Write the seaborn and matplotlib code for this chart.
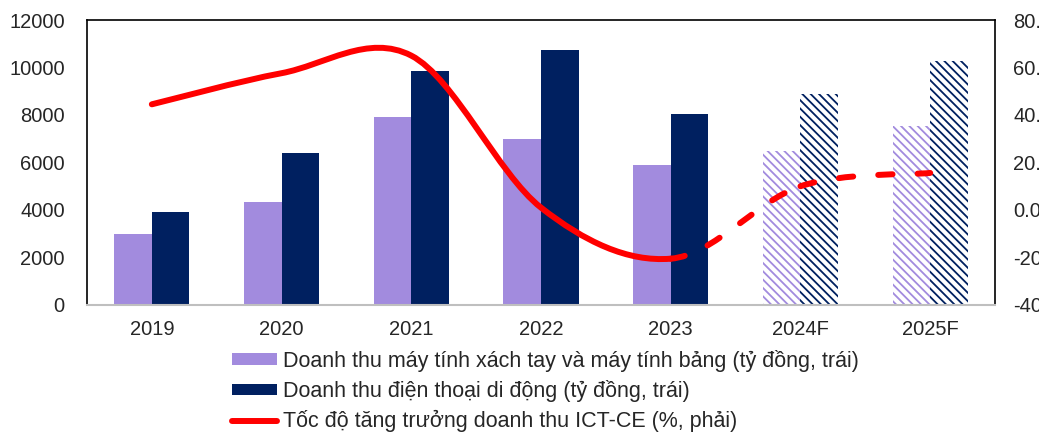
import numpy as np
import pandas as pd
import matplotlib
matplotlib.use("Agg")
import matplotlib.pyplot as plt
import matplotlib.patches as mpatches
from matplotlib.lines import Line2D
from matplotlib.path import Path
import seaborn as sns

# ---------------------------------------------------------------------------
# Data
# ---------------------------------------------------------------------------
years = ["2019", "2020", "2021", "2022", "2023", "2024F", "2025F"]
laptop_rev = [3000, 4350, 7900, 7000, 5900, 6500, 7550]
phone_rev = [3900, 6400, 9850, 10750, 8050, 8900, 10270]
growth = [44.5, 57.6, 65.0, 1.0, -20.5, 10.0, 15.6]
n_forecast = 2

laptop_label = "Doanh thu máy tính xách tay và máy tính bảng (tỷ đồng, trái)"
phone_label = "Doanh thu điện thoại di động (tỷ đồng, trái)"
growth_label = "Tốc độ tăng trưởng doanh thu ICT-CE (%, phải)"

left_ticks = [0, 2000, 4000, 6000, 8000, 10000, 12000]
right_ticks = [-40, -20, 0, 20, 40, 60, 80]
right_ticklabels = ["-40.0", "-20.0", "0.0", "20.0", "40.0", "60.0", "80.0"]

PURPLE = "#A28BDE"
NAVY = "#002060"
RED = "#FF0000"

sns.set_style("white")
plt.rcParams["font.family"] = ["Liberation Sans", "DejaVu Sans"]
plt.rcParams["hatch.linewidth"] = 1.3

df = pd.DataFrame({
    "year": years * 2,
    "series": [laptop_label] * len(years) + [phone_label] * len(years),
    "value": laptop_rev + phone_rev,
})

fig = plt.figure(figsize=(10.39, 4.32), dpi=100)
ax = fig.add_axes([0.0837, 0.294, 0.874, 0.6597])

sns.barplot(data=df, x="year", y="value", hue="series",
            palette=[PURPLE, NAVY], width=0.58, saturation=1,
            legend=False, ax=ax)

# forecast bars: hatched, no fill
colors = [PURPLE, NAVY]
for i, container in enumerate(ax.containers):
    for j, bar in enumerate(container):
        bar.set_linewidth(0)
        if j >= len(years) - n_forecast:
            bar.set_facecolor("white")
            bar.set_edgecolor(colors[i])
            bar.set_hatch("\\\\\\\\")

ax.set_ylim(0, 12000)
ax.set_yticks(left_ticks)
ax.set_xlim(-0.5, len(years) - 0.5)
ax.set_xlabel("")
ax.set_ylabel("")
ax.tick_params(axis="y", length=0, pad=16, labelsize=14.5)
ax.tick_params(axis="x", length=0, pad=11, labelsize=14.5)
for side in ["left", "right", "top"]:
    ax.spines[side].set_color("black")
    ax.spines[side].set_linewidth(1.2)
ax.spines["bottom"].set_color("#BFBFBF")
ax.spines["bottom"].set_linewidth(1.5)

# ---------------------------------------------------------------------------
# Growth line on right axis (smoothed, Excel-like)
# ---------------------------------------------------------------------------
ax2 = ax.twinx()
ax2.set_ylim(-40, 80)
ax2.set_yticks(right_ticks)
ax2.set_yticklabels(right_ticklabels)
ax2.tick_params(axis="y", length=0, pad=13, labelsize=14.5)
for side in ["left", "right", "top", "bottom"]:
    ax2.spines[side].set_visible(False)

xs = np.arange(len(years), dtype=float)
ys = np.array(growth, dtype=float)


def seg_path(i0, i1):
    verts = [(xs[i0], ys[i0])]
    codes = [Path.MOVETO]
    for k in range(i0, i1):
        p0 = max(k - 1, 0)
        p3 = min(k + 2, len(xs) - 1)
        c1 = (xs[k] + (xs[k + 1] - xs[p0]) / 6, ys[k] + (ys[k + 1] - ys[p0]) / 6)
        c2 = (xs[k + 1] - (xs[p3] - xs[k]) / 6, ys[k + 1] - (ys[p3] - ys[k]) / 6)
        verts += [c1, c2, (xs[k + 1], ys[k + 1])]
        codes += [Path.CURVE4] * 3
    return Path(verts, codes)


solid_end = len(years) - 1 - n_forecast
ax2.add_patch(mpatches.PathPatch(seg_path(0, solid_end), facecolor="none",
                                 edgecolor=RED, lw=4.3, capstyle="round",
                                 joinstyle="round"))
for k in range(solid_end, len(years) - 1):
    ax2.add_patch(mpatches.PathPatch(seg_path(k, k + 1), facecolor="none",
                                     edgecolor=RED, lw=4.3, capstyle="round",
                                     linestyle=(0, (2.4, 4.2))))

# ---------------------------------------------------------------------------
# Legend
# ---------------------------------------------------------------------------
handles = [
    mpatches.Patch(facecolor=PURPLE, edgecolor="none"),
    mpatches.Patch(facecolor=NAVY, edgecolor="none"),
    Line2D([0], [0], color=RED, lw=4.3, solid_capstyle="round"),
]
fig.legend(handles, [laptop_label, phone_label, growth_label],
           loc="upper left", bbox_to_anchor=(0.2233, 0.19), frameon=False,
           fontsize=15.5, handlelength=2.1, handleheight=0.47,
           handletextpad=0.25, labelspacing=0.38, borderpad=0, borderaxespad=0)

fig.savefig("out.png", dpi=100)
